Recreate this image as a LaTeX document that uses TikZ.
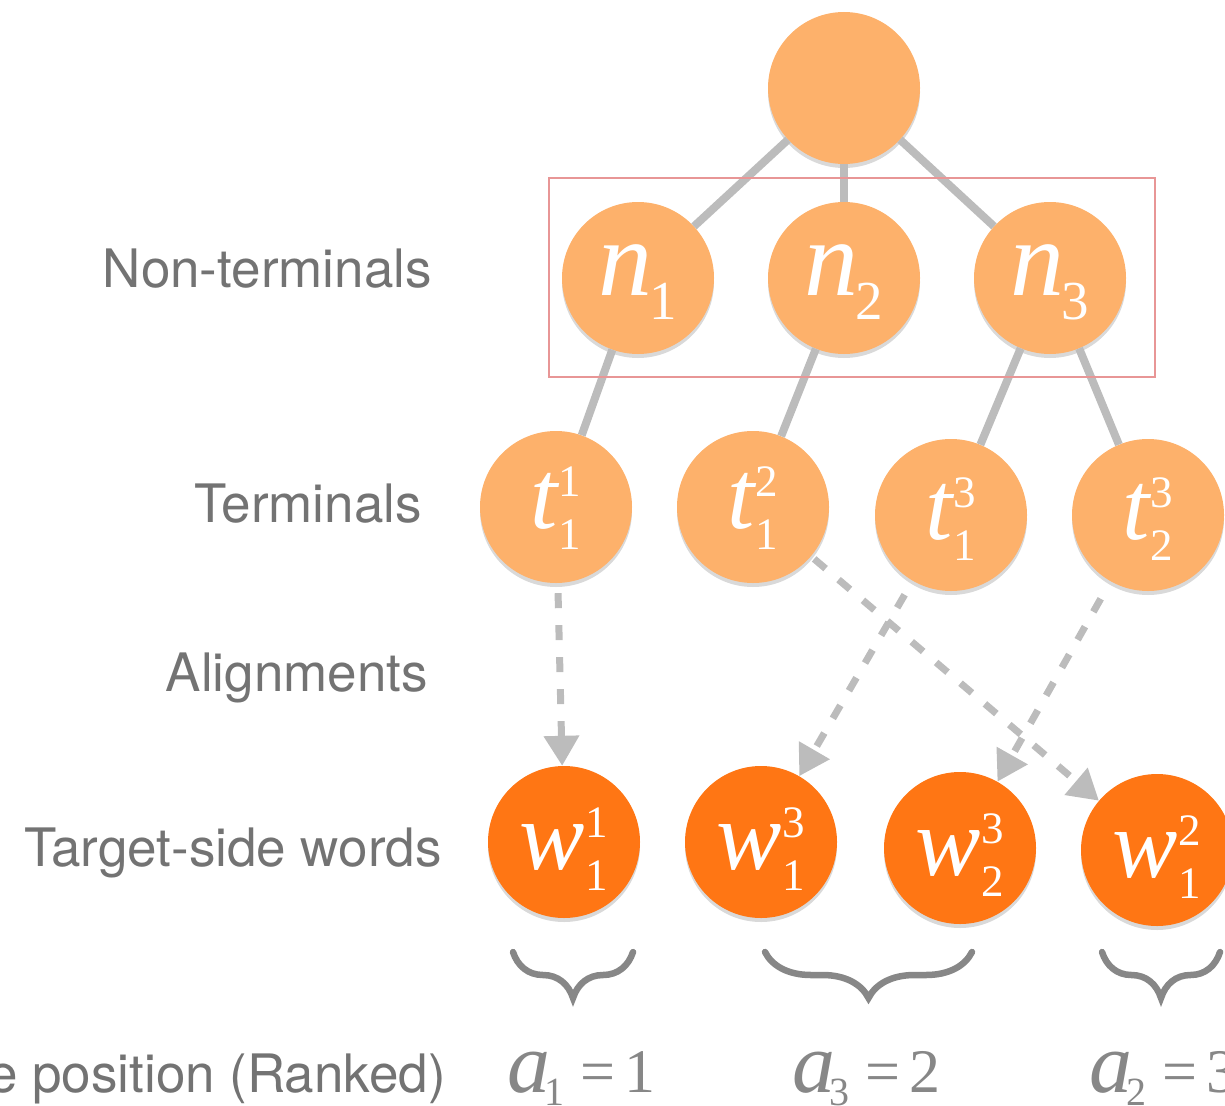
\documentclass[tikz,border=0pt]{standalone}
\usepackage{fontspec}
\setmainfont{TeX Gyre Heros}
\newfontfamily\eqfont{Liberation Serif}
\usetikzlibrary{shadows}
\usetikzlibrary{positioning}
\usetikzlibrary{arrows.meta}
\usetikzlibrary{decorations.pathreplacing}

\definecolor{nodelight}{RGB}{253,177,107}
\definecolor{nodedark}{RGB}{255,118,20}
\definecolor{edgegray}{RGB}{188,188,188}
\definecolor{boxred}{RGB}{232,150,150}
\definecolor{labelgray}{RGB}{115,115,115}
\definecolor{mathgray}{RGB}{135,135,135}

% letter, subscript, superscript, drop below centre
\newcommand{\symlbl}[4]{\smash{\raisebox{-#4}{{\eqfont\fontsize{98}{98}\selectfont\itshape #1}\kern1pt\rlap{\raisebox{32pt}{\eqfont\fontsize{45}{45}\selectfont #3}}\raisebox{-21pt}{\eqfont\fontsize{45}{45}\selectfont #2}}}}
\newcommand{\ntlbl}[1]{\smash{\raisebox{-17pt}{{\eqfont\fontsize{108}{108}\selectfont\itshape n}\kern-3pt\raisebox{-24pt}{\eqfont\fontsize{55}{55}\selectfont #1}}}}
\newcommand{\poslbl}[2]{{\eqfont\fontsize{86}{86}\selectfont\itshape a}\kern-6pt\raisebox{-13pt}{\eqfont\fontsize{40}{40}\selectfont #1}\hspace{16pt}{\eqfont\fontsize{62}{62}\selectfont =\hspace{9pt}#2}}

\tikzset{
  tree/.style={circle, minimum size=152pt, inner sep=0pt, fill=nodelight, text=white,
    drop shadow={shadow xshift=0pt, shadow yshift=-4pt, opacity=0.3}},
  word/.style={tree, fill=nodedark},
  side/.style={anchor=base east, inner sep=0pt, text=labelgray, font=\fontsize{53}{53}\selectfont},
  edge/.style={draw=edgegray, line width=8pt},
  align/.style={draw=edgegray, line width=7pt, dash pattern=on 15pt off 17pt, shorten <=10pt,
    -{Triangle[length=30pt,width=34pt]}},
  span/.style={draw=mathgray, line width=6.5pt, line cap=round, decorate,
    decoration={brace, amplitude=46pt}}
}

\begin{document}
\begin{tikzpicture}[x=1pt,y=1pt,yscale=-1,xscale=1]
\useasboundingbox (0,0) rectangle (1225,1105);
\clip (0,0) rectangle (1225,1105);

%Shape: Circle
\node [tree] (root) at (844,88) {};
%Shape: Circle
\node [tree] (n1) at (638,278) {\ntlbl{1}};
\node [tree] (n2) at (844,278) {\ntlbl{2}};
\node [tree] (n3) at (1050,278) {\ntlbl{3}};
%Shape: Circle
\node [tree] (t11) at (556,507) {\symlbl{t}{1}{1}{21pt}};
\node [tree] (t12) at (753,507) {\symlbl{t}{1}{2}{21pt}};
\node [tree] (t13) at (951,515) {\symlbl{t}{1}{3}{24pt}};
\node [tree] (t23) at (1148,515) {\symlbl{t}{2}{3}{24pt}};
%Shape: Circle
\node [word] (w11) at (564,842) {\symlbl{w}{1}{1}{27pt}};
\node [word] (w13) at (761,842) {\symlbl{w}{1}{3}{27pt}};
\node [word] (w23) at (960,848) {\symlbl{w}{2}{3}{27pt}};
\node [word] (w12) at (1157,850) {\symlbl{w}{1}{2}{27pt}};

%Straight Lines
\draw [edge] (root) -- (n1);
\draw [edge] (root) -- (n2);
\draw [edge] (root) -- (n3);
\draw [edge] (n1) -- (t11);
\draw [edge] (n2) -- (t12);
\draw [edge] (n3) -- (t13);
\draw [edge] (n3) -- (t23);

%Shape: Rectangle
\draw [boxred, line width=2pt] (549,178) rectangle (1155,377);

%Dashed Arrows
\draw [align] (t11) -- (w11);
\draw [align, shorten <=4pt] (t12) -- (w12);
\draw [align, shorten <=16pt] (t13) -- (w13);
\draw [align, shorten <=20pt] (t23) -- (w23);

%Shape: Braces
\draw [span] (633,952) -- (513,952);
\draw [span] (972,952) -- (765,952);
\draw [span] (1220,952) -- (1102,952);

% Text Node
\node [side] (nonterm) at (432,287) {Non-terminals};
% Text Node
\node [side] (term) at (422,522) {Terminals};
% Text Node
\node [side] (alignlbl) at (428,691) {Alignments};
% Text Node
\node [side] (target) at (442,866) {Target-side words};
% Text Node
\node [side] (rank) at (446,1092) {Target-side position (Ranked)};
% Text Node
\node [anchor=base west, inner sep=0pt, text=mathgray] (a1) at (507,1092) {\poslbl{1}{1}};
\node [anchor=base west, inner sep=0pt, text=mathgray] (a3) at (792,1092) {\poslbl{3}{2}};
\node [anchor=base west, inner sep=0pt, text=mathgray] (a2) at (1089,1092) {\poslbl{2}{3}};

\end{tikzpicture}
\end{document}
